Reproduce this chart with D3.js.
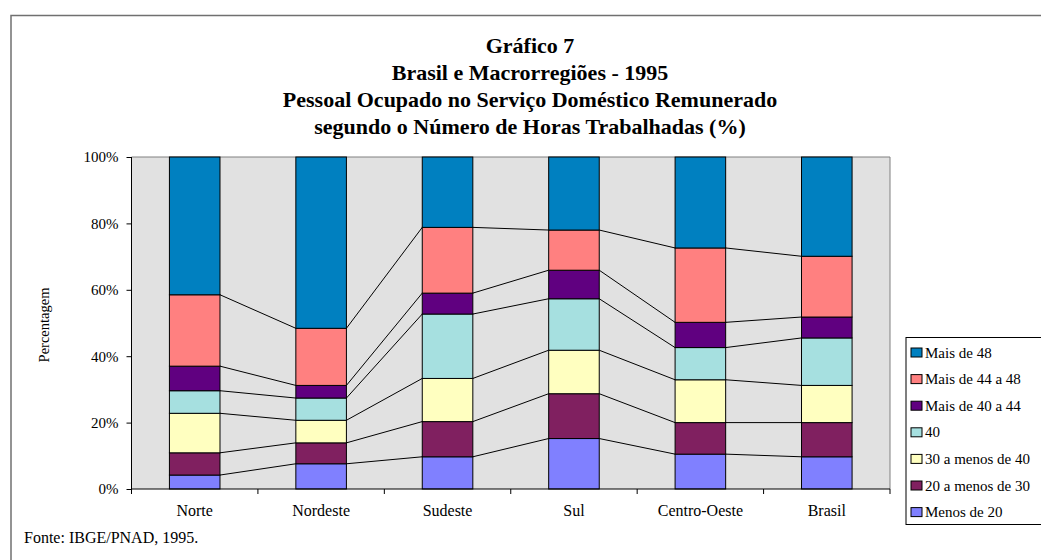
<!DOCTYPE html>
<html>
<head>
<meta charset="utf-8">
<script src="https://cdn.jsdelivr.net/npm/d3@7"></script>
<style>
  body { margin: 0; background: #fff; }
  svg text { font-family: "Liberation Serif", "Times New Roman", serif; fill: #000; }
</style>
</head>
<body>
<svg id="chart" width="1041" height="560"></svg>
<script>
const categories = ["Norte", "Nordeste", "Sudeste", "Sul", "Centro-Oeste", "Brasil"];
const seriesNames = ["Menos de 20", "20 a menos de 30", "30 a menos de 40", "40",
                     "Mais de 40 a 44", "Mais de 44 a 48", "Mais de 48"];
const menos20  = [4.2, 7.6, 9.7, 15.2, 10.5, 9.7];
const de20a30  = [6.7, 6.3, 10.6, 13.5, 9.5, 10.3];
const de30a40  = [11.9, 6.8, 13.0, 13.1, 12.9, 11.2];
const h40      = [6.8, 6.7, 19.4, 15.5, 9.7, 14.3];
const de40a44  = [7.4, 3.8, 6.3, 8.6, 7.6, 6.3];
const de44a48  = [21.5, 17.2, 19.8, 12.1, 22.4, 18.3];
const mais48   = [41.5, 51.6, 21.2, 22.0, 27.4, 29.9];
const yTicks = [0, 0.2, 0.4, 0.6, 0.8, 1];
const colors = ["#8080ff", "#802060", "#ffffc0", "#a6e0e0", "#600080", "#ff8080", "#0080c0"];

const seriesValues = [menos20, de20a30, de30a40, h40, de40a44, de44a48, mais48];
const rows = categories.map((c, i) => {
    const r = { cat: c };
    seriesNames.forEach((s, j) => r[s] = seriesValues[j][i]);
    return r;
});

const plotL = 131.5, plotR = 890, plotT = 157, plotB = 489;
const svg = d3.select("#chart");

// outer frame
svg.append("path")
    .attr("d", `M11,600 L11,15.5 L1045,15.5`)
    .attr("fill", "none").attr("stroke", "#707070").attr("stroke-width", 1.5);

const x = d3.scaleBand().domain(categories).range([plotL, plotR])
    .paddingInner(0.6).paddingOuter(0.3);
const y = d3.scaleLinear().domain([0, 1]).range([plotB, plotT]);

const stacked = d3.stack().keys(seriesNames).offset(d3.stackOffsetExpand)(rows);

// plot background
svg.append("rect")
    .attr("x", plotL).attr("y", plotT)
    .attr("width", plotR - plotL).attr("height", plotB - plotT)
    .attr("fill", "#e1e1e1");
svg.append("path")
    .attr("d", `M${plotL},${plotT} L${plotR},${plotT} L${plotR},${plotB}`)
    .attr("fill", "none").attr("stroke", "#808080").attr("stroke-width", 1);

// series lines between bars
const lines = svg.append("g");
stacked.forEach(s => {
    if (s.key === "Mais de 48") return;
    for (let i = 0; i < s.length - 1; i++) {
        lines.append("line")
            .attr("x1", x(categories[i]) + x.bandwidth())
            .attr("x2", x(categories[i + 1]))
            .attr("y1", y(s[i][1]))
            .attr("y2", y(s[i + 1][1]))
            .attr("stroke", "#000").attr("stroke-width", 1);
    }
});

// bars
svg.append("g").selectAll("g")
    .data(stacked)
    .join("g")
    .attr("fill", (d, i) => colors[i])
    .selectAll("rect")
    .data(d => d)
    .join("rect")
    .attr("x", d => x(d.data.cat))
    .attr("width", x.bandwidth())
    .attr("y", d => y(d[1]))
    .attr("height", d => y(d[0]) - y(d[1]))
    .attr("stroke", "#000").attr("stroke-width", 1);

// y axis
const yAxis = svg.append("g")
    .attr("transform", `translate(${plotL},0)`)
    .call(d3.axisLeft(y).tickValues(yTicks).tickFormat(d3.format(".0%")).tickSize(5).tickSizeOuter(0));
yAxis.select(".domain").attr("d", `M0,${plotT} V${plotB + 5}`).attr("stroke", "#000");
yAxis.selectAll(".tick text")
    .attr("x", -13)
    .style("font-size", "15px");

// x axis
const xAxis = svg.append("g").attr("transform", `translate(0,${plotB})`);
xAxis.append("line").attr("x1", plotL).attr("x2", plotR).attr("stroke", "#000");
d3.range(categories.length + 1).forEach(i => {
    const tx = plotL + i * x.step();
    xAxis.append("line").attr("x1", tx).attr("x2", tx).attr("y1", 0).attr("y2", 5).attr("stroke", "#000");
});
xAxis.selectAll("text.cat")
    .data(categories)
    .join("text")
    .attr("class", "cat")
    .attr("x", d => x(d) + x.bandwidth() / 2)
    .attr("y", 27)
    .attr("text-anchor", "middle")
    .style("font-size", "16px")
    .text(d => d);

// y axis title
svg.append("text")
    .attr("transform", `translate(49,325) rotate(-90)`)
    .attr("text-anchor", "middle")
    .style("font-size", "14.5px")
    .text("Percentagem");

// title
const titleLines = ["Gráfico 7", "Brasil e Macrorregiões - 1995",
    "Pessoal Ocupado no Serviço Doméstico Remunerado",
    "segundo o Número de Horas Trabalhadas (%)"];
svg.append("g").selectAll("text")
    .data(titleLines)
    .join("text")
    .attr("x", 530)
    .attr("y", (d, i) => 53 + i * 27)
    .attr("text-anchor", "middle")
    .style("font-size", "22px")
    .style("font-weight", "bold")
    .text(d => d);

// legend
const legend = svg.append("g").attr("transform", "translate(906,337.5)");
legend.append("rect")
    .attr("width", 150).attr("height", 187)
    .attr("fill", "#fff").attr("stroke", "#000").attr("stroke-width", 1);
const legendOrder = seriesNames.slice().reverse();
const items = legend.selectAll("g.item")
    .data(legendOrder)
    .join("g")
    .attr("class", "item")
    .attr("transform", (d, i) => `translate(0,${15 + i * 26.6})`);
items.append("rect")
    .attr("x", 5).attr("y", -4.5)
    .attr("width", 11).attr("height", 9)
    .attr("fill", d => colors[seriesNames.indexOf(d)])
    .attr("stroke", "#000").attr("stroke-width", 1);
items.append("text")
    .attr("x", 19).attr("y", 5)
    .style("font-size", "15px")
    .text(d => d);

// source
svg.append("text")
    .attr("x", 24).attr("y", 543)
    .style("font-size", "16px")
    .text("Fonte: IBGE/PNAD, 1995.");
</script>
</body>
</html>
